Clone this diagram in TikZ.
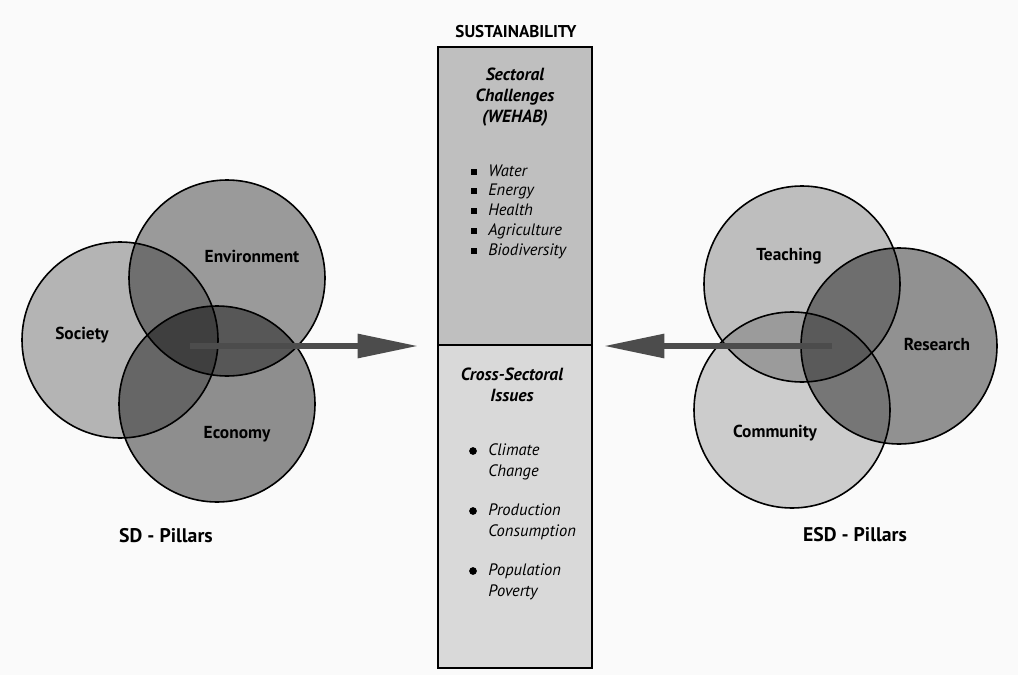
\documentclass[tikz,border=0pt]{standalone}
\usepackage{fontspec}
\setmainfont{PT Sans}
\usetikzlibrary{positioning}
\usetikzlibrary{arrows.meta}
\pgfdeclarelayer{foreground}
\pgfsetlayers{main,foreground}
\definecolor{paper}{gray}{0.98}
\definecolor{upperbox}{gray}{0.75}
\definecolor{lowerbox}{gray}{0.85}
\definecolor{shaft}{gray}{0.30}

\begin{document}
\begin{tikzpicture}[x=0.75pt, y=-0.75pt,
    pillar/.style={circle, fill=black, inner sep=0pt, minimum size=147pt},
    ring/.style={circle, draw, line width=1.2pt, inner sep=0pt, minimum size=147pt},
    pillar name/.style={font=\bfseries\fontsize{13}{15}\selectfont},
    caption/.style={font=\bfseries\fontsize{14.8}{17}\selectfont},
    panel/.style={draw, line width=1.5pt, inner sep=0pt, minimum width=115.5pt},
    head/.style={font=\bfseries\itshape\fontsize{13.2}{15.8}\selectfont, align=center},
    item/.style={font=\itshape\fontsize{12.4}{14}\selectfont, anchor=west, inner sep=0pt,
        text height=1.6ex, text depth=.4ex},
    sq bullet/.style={fill=black, inner sep=0pt, minimum size=4.8pt},
    dot bullet/.style={circle, fill=black, inner sep=0pt, minimum size=5.8pt},
    big arrow/.style={draw=shaft, line width=5.2pt,
        -{Triangle[length=46pt, width=17pt]}}
]
\fill[paper] (0,0) rectangle (1018,675);
\useasboundingbox (0,0) rectangle (1018,675);

% SD pillars
\node[pillar, fill opacity=0.28] (soc) at (120,340) {};
\node[pillar, fill opacity=0.38] (env) at (227,278) {};
\node[pillar, fill opacity=0.43] (eco) at (217,404) {};
% ESD pillars
\node[pillar, fill opacity=0.24] (tea) at (802,284) {};
\node[pillar, fill opacity=0.42] (res) at (899,346) {};
\node[pillar, fill opacity=0.18] (com) at (792,410) {};

\begin{pgfonlayer}{foreground}
\foreach \n in {soc,env,eco,tea,res,com}
    \node[ring] at (\n) {};
\end{pgfonlayer}

\node[pillar name] (socname) at (82,335) {Society};
\node[pillar name] (envname) at (252,256) {Environment};
\node[pillar name] (econame) at (237,434) {Economy};
\node[pillar name] (teaname) at (789,256) {Teaching};
\node[pillar name] (resname) at (937,344) {Research};
\node[pillar name] (comname) at (775,433) {Community};
\node[caption] (sd) at (166,536) {SD - Pillars};
\node[caption] (esd) at (855,535) {ESD - Pillars};

% central column
\node[caption, font=\bfseries\fontsize{12.8}{15}\selectfont] (sus) at (516,32) {SUSTAINABILITY};
\node[panel, fill=upperbox, minimum height=223.5pt] (sect) at (515,196) {};
\node[panel, fill=lowerbox, minimum height=242.3pt] (cross) at (515,506.5) {};

\node[head] (secthead) at (515,97) {Sectoral\\Challenges\\(WEHAB)};
\node[sq bullet] (b1) at (474,172) {};
\node[item] (water) at (488,172) {Water};
\node[sq bullet] (b2) at (474,191) {};
\node[item] (energy) at (488,191) {Energy};
\node[sq bullet] (b3) at (474,211) {};
\node[item] (health) at (488,211) {Health};
\node[sq bullet] (b4) at (474,231) {};
\node[item] (agri) at (488,231) {Agriculture};
\node[sq bullet] (b5) at (474,251) {};
\node[item] (bio) at (488,251) {Biodiversity};

\node[head] (crosshead) at (512,385) {Cross-Sectoral\\Issues};
\node[dot bullet] (d1) at (473,451) {};
\node[item] (clim) at (488,451) {Climate};
\node[item] (chng) at (488,472) {Change};
\node[dot bullet] (d2) at (473,511) {};
\node[item] (prod) at (488,511) {Production};
\node[item] (cons) at (488,532) {Consumption};
\node[dot bullet] (d3) at (473,571) {};
\node[item] (pop) at (488,571) {Population};
\node[item] (pov) at (488,592) {Poverty};

% arrows into the column
\begin{pgfonlayer}{foreground}
\coordinate (sdfrom) at (190,346);
\coordinate (esdfrom) at (832,346);
\draw[big arrow] (sdfrom) -- ([xshift=-13.5pt]sect.south west);
\draw[big arrow] (esdfrom) -- ([xshift=7.5pt]sect.south east);
\end{pgfonlayer}
\end{tikzpicture}
\end{document}
